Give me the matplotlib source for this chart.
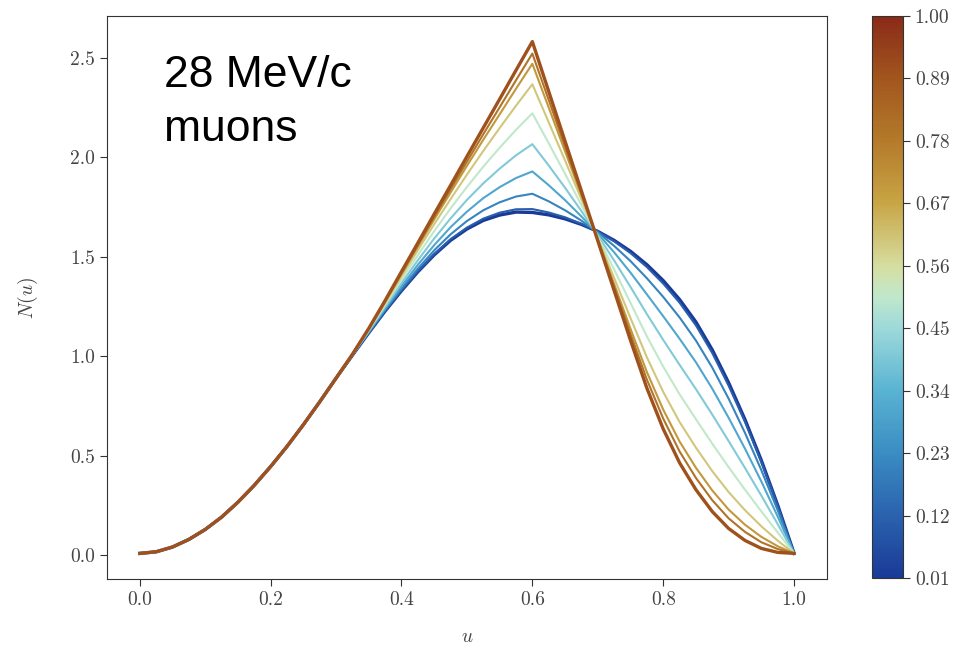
import numpy as np
import matplotlib
matplotlib.use("Agg")
import matplotlib.pyplot as plt
from matplotlib.colors import LinearSegmentedColormap, Normalize
from matplotlib.cm import ScalarMappable

plt.rcParams['mathtext.fontset'] = 'cm'
plt.rcParams['font.family'] = 'serif'
plt.rcParams['font.serif'] = ['cmr10', 'DejaVu Serif']
plt.rcParams['axes.formatter.use_mathtext'] = True

# parameter value of each curve (colour scale)
params = [0.01, 0.12, 0.23, 0.34, 0.45, 0.56, 0.67, 0.78, 0.89, 1.00]

# sample positions in u (0 .. 1, step 0.025)
u = np.linspace(0.0, 1.0, 41)

# u = 0 .. 0.275 : all curves lie on top of each other
low = [0.010, 0.018, 0.042, 0.080, 0.130, 0.192, 0.267, 0.352, 0.446, 0.547, 0.656, 0.771]

# u = 0.3 .. 1.0, one list per curve
n_001 = [0.890, 1.005, 1.118, 1.227, 1.329, 1.424, 1.509, 1.582, 1.639, 1.682, 1.709, 1.724, 1.722, 1.710, 1.690,
         1.662, 1.627, 1.582, 1.527, 1.460, 1.380, 1.285, 1.172, 1.032, 0.867, 0.682, 0.477, 0.252, 0.010]
n_012 = [0.890, 1.005, 1.118, 1.228, 1.331, 1.427, 1.513, 1.588, 1.646, 1.691, 1.721, 1.738, 1.739, 1.722, 1.698,
         1.665, 1.626, 1.577, 1.518, 1.448, 1.365, 1.269, 1.155, 1.016, 0.852, 0.670, 0.468, 0.247, 0.010]
n_023 = [0.890, 1.006, 1.120, 1.233, 1.340, 1.440, 1.532, 1.612, 1.679, 1.733, 1.773, 1.802, 1.816, 1.778, 1.733,
         1.681, 1.622, 1.554, 1.478, 1.392, 1.298, 1.195, 1.079, 0.943, 0.787, 0.615, 0.428, 0.226, 0.010]
n_034 = [0.890, 1.006, 1.123, 1.240, 1.352, 1.459, 1.558, 1.648, 1.726, 1.794, 1.849, 1.895, 1.928, 1.859, 1.784,
         1.702, 1.616, 1.522, 1.420, 1.311, 1.201, 1.088, 0.970, 0.837, 0.691, 0.536, 0.371, 0.195, 0.010]
n_045 = [0.890, 1.007, 1.127, 1.248, 1.367, 1.482, 1.591, 1.692, 1.785, 1.868, 1.942, 2.009, 2.065, 1.958, 1.846,
         1.729, 1.608, 1.481, 1.348, 1.212, 1.082, 0.957, 0.835, 0.707, 0.574, 0.439, 0.300, 0.157, 0.010]
n_056 = [0.890, 1.008, 1.131, 1.258, 1.385, 1.508, 1.628, 1.742, 1.850, 1.952, 2.047, 2.137, 2.220, 2.070, 1.916,
         1.759, 1.600, 1.436, 1.268, 1.100, 0.948, 0.809, 0.684, 0.561, 0.443, 0.330, 0.221, 0.115, 0.010]
n_067 = [0.890, 1.009, 1.135, 1.267, 1.401, 1.533, 1.663, 1.789, 1.912, 2.031, 2.146, 2.258, 2.366, 2.175, 1.983,
         1.788, 1.592, 1.393, 1.192, 0.995, 0.821, 0.670, 0.541, 0.423, 0.318, 0.227, 0.146, 0.074, 0.010]
n_078 = [0.890, 1.009, 1.137, 1.273, 1.413, 1.550, 1.687, 1.822, 1.956, 2.087, 2.215, 2.343, 2.469, 2.249, 2.029,
         1.808, 1.586, 1.363, 1.138, 0.921, 0.732, 0.572, 0.440, 0.326, 0.230, 0.154, 0.093, 0.046, 0.010]
n_089 = [0.890, 1.010, 1.139, 1.276, 1.418, 1.559, 1.700, 1.839, 1.977, 2.115, 2.250, 2.386, 2.520, 2.287, 2.053,
         1.818, 1.583, 1.348, 1.111, 0.883, 0.687, 0.522, 0.389, 0.277, 0.186, 0.118, 0.066, 0.032, 0.010]
n_100 = [0.890, 1.010, 1.140, 1.280, 1.425, 1.569, 1.714, 1.858, 2.003, 2.147, 2.291, 2.436, 2.580, 2.330, 2.080,
         1.830, 1.580, 1.330, 1.080, 0.840, 0.635, 0.465, 0.330, 0.220, 0.135, 0.075, 0.035, 0.015, 0.010]

curves = [n_001, n_012, n_023, n_034, n_045, n_056, n_067, n_078, n_089, n_100]

# reversed "roma"-like map as seen on the colour bar
cmap = LinearSegmentedColormap.from_list("roma_r", [
    (0.00, '#1a3a98'),
    (0.11, '#2a62ae'),
    (0.22, '#3a8cc2'),
    (0.33, '#58b2d2'),
    (0.44, '#9ad8da'),
    (0.50, '#c0e8cc'),
    (0.555, '#d6dea0'),
    (0.67, '#c8a444'),
    (0.78, '#b47a2a'),
    (0.89, '#a2561e'),
    (1.00, '#8a2a18'),
])
norm = Normalize(vmin=0.01, vmax=1.0)

fig = plt.figure(figsize=(9.67, 6.54), dpi=100)
ax = fig.add_axes([0.1107, 0.1147, 0.7443, 0.8608])
cax = fig.add_axes([0.9018, 0.1162, 0.032, 0.8593])

n = len(curves)
for i, vals in enumerate(curves):
    lw = 2.4 if i in (0, n - 1) else 1.5
    ax.plot(u, low + vals, color=cmap(i / n), lw=lw, zorder=2 + i)

ax.set_xticks([0.0, 0.2, 0.4, 0.6, 0.8, 1.0])
ax.set_yticks([0.0, 0.5, 1.0, 1.5, 2.0, 2.5])
ax.set_xticklabels(['0.0', '0.2', '0.4', '0.6', '0.8', '1.0'])
ax.set_yticklabels(['0.0', '0.5', '1.0', '1.5', '2.0', '2.5'])
ax.tick_params(labelsize=14, length=5, color='#333333', labelcolor='#444444')
ax.set_xlabel('$u$', fontsize=14, color='#444444', labelpad=14)
ax.set_ylabel('$N(u)$', fontsize=14, color='#444444', labelpad=22)
for s in ax.spines.values():
    s.set_color('#333333')

ax.text(0.079, 0.874, '28 MeV/c', transform=ax.transAxes,
        family='Liberation Sans', fontsize=32, va='baseline', ha='left')
ax.text(0.079, 0.778, 'muons', transform=ax.transAxes,
        family='Liberation Sans', fontsize=32, va='baseline', ha='left')

sm = ScalarMappable(norm=norm, cmap=cmap)
cb = fig.colorbar(sm, cax=cax)
cb.set_ticks(params)
cb.set_ticklabels(['%.2f' % p for p in params])
cb.ax.tick_params(labelsize=14, length=5, color='#333333', labelcolor='#444444')
cb.outline.set_edgecolor('#333333')

fig.savefig('out.png', dpi=100)
